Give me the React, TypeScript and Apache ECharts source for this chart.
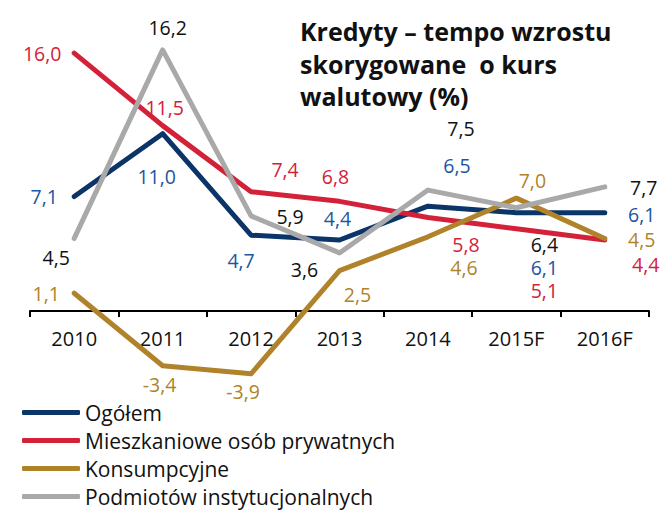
import React, { useEffect, useRef } from "react";
import * as echarts from "echarts";

const categories = ["2010", "2011", "2012", "2013", "2014", "2015F", "2016F"];
const seriesNames = [
  "Ogółem",
  "Mieszkaniowe osób prywatnych",
  "Konsumpcyjne",
  "Podmiotów instytucjonalnych",
];
const ogolem = [7.1, 11.0, 4.7, 4.4, 6.5, 6.1, 6.1];
const mieszkaniowe = [16.0, 11.5, 7.4, 6.8, 5.8, 5.1, 4.4];
const konsumpcyjne = [1.1, -3.4, -3.9, 2.5, 4.6, 7.0, 4.5];
const podmiotow = [4.5, 16.2, 5.9, 3.6, 7.5, 6.4, 7.7];

const lineColors = ["#0b3468", "#d4213a", "#b0832a", "#a9a9a9"];
const labelColors = ["#1c56a0", "#d4213a", "#b0832a", "#111111"];

// label offsets (dx, dy) from the data point
const labelOffsets: number[][][] = [
  [[-30, 0], [-6, 43], [-10, 25], [-2, -22], [29, -41], [28, 55], [37, 2]],
  [[-32, 0], [2, -18], [34, -22], [-4, -25], [38, 27], [28, 62], [41, 24]],
  [[-28, 0], [-3, 19], [-8, 18], [18, 24], [36, 31], [16, -18], [37, 1]],
  [[-18, 19], [5, -22], [39, 1], [-35, 17], [33, -62], [28, 37], [39, 1]],
];

const FONT = "'Open Sans', 'Noto Sans', sans-serif";

export default function App() {
  const ref = useRef<HTMLDivElement>(null);
  useEffect(() => {
    if (!ref.current) return;
    const chart = echarts.init(ref.current, undefined, { renderer: "svg" });
    const allData = [ogolem, mieszkaniowe, konsumpcyjne, podmiotow];
    const series = allData.map((arr, si) => ({
      name: seriesNames[si],
      type: "line",
      data: arr.map((v, i) => ({
        value: v,
        label: {
          show: true,
          position: "inside",
          offset: labelOffsets[si][i],
          formatter: v.toFixed(1).replace(".", ","),
          color: labelColors[si],
          fontSize: 19.5,
          lineHeight: 18,
          fontFamily: FONT,
        },
      })),
      symbol: "circle",
      symbolSize: 1,
      itemStyle: { color: lineColors[si] },
      lineStyle: { color: lineColors[si], width: 5, cap: "round", join: "round" },
      z: 2 + si,
    }));
    chart.setOption({
      animation: false,
      textStyle: { fontFamily: FONT },
      title: {
        text: "Kredyty – tempo wzrostu\nskorygowane  o kurs\nwalutowy (%)",
        left: 300,
        top: 15,
        padding: 0,
        textStyle: {
          fontSize: 25,
          fontWeight: "bold",
          lineHeight: 32.5,
          color: "#111",
          fontFamily: FONT,
        },
      },
      legend: {
        orient: "vertical",
        left: 22,
        top: 402,
        padding: 0,
        height: 108,
        itemWidth: 58,
        itemHeight: 5,
        itemGap: 7,
        icon: "roundRect",
        data: seriesNames,
        textStyle: { fontSize: 21, lineHeight: 21, color: "#111", fontFamily: FONT },
      },
      grid: { left: 30, right: 17, top: 37, bottom: 118.5 },
      xAxis: {
        type: "category",
        data: categories,
        boundaryGap: true,
        offset: -80.5,
        axisLine: { onZero: false, lineStyle: { color: "#000", width: 2 } },
        axisTick: { show: true, length: 6, lineStyle: { color: "#000", width: 2 } },
        axisLabel: { fontSize: 20, color: "#111", margin: 17, fontFamily: FONT },
      },
      yAxis: {
        type: "value",
        min: -5,
        max: 17,
        show: false,
        splitLine: { show: false },
      },
      series,
    });
    return () => chart.dispose();
  }, []);
  return <div ref={ref} style={{ width: 666, height: 510, position: "absolute", left: 0, top: 0 }} />;
}
